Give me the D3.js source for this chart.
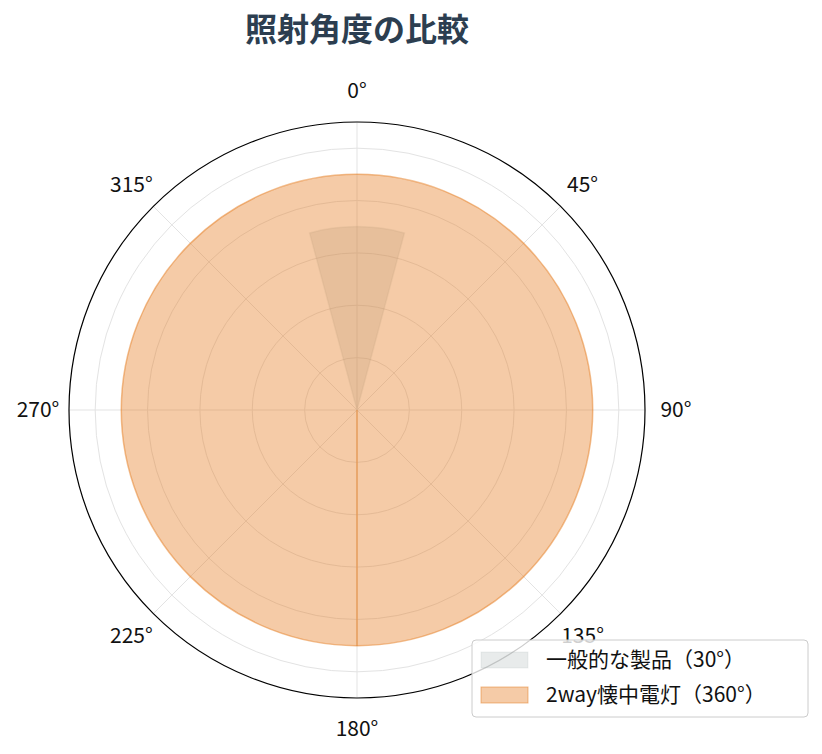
<!DOCTYPE html>
<html>
<head>
<meta charset="utf-8">
<script src="https://cdn.jsdelivr.net/npm/d3@7"></script>
<style>
  body { margin: 0; background: #fff; }
  text { font-family: "Noto Sans CJK JP", "Noto Sans", sans-serif; }
</style>
</head>
<body>
<div id="chart"></div>
<script>
// data
const categories = ["一般的な製品（30°）", "2way懐中電灯（360°）"];
const spanDeg = [30, 360];
const intensity = [0.7, 0.9];
const fillColors = ["#95a5a6", "#e67e22"];
const angleTicks = [0, 45, 90, 135, 180, 225, 270, 315];
const radialTicks = [0.2, 0.4, 0.6, 0.8, 1.0];
const rMax = 1.1;

let width = 822, height = 754;
let center = { x: 357, y: 410 };
let outerR = 288;

var angle = d3.scaleLinear().domain([0, 360]).range([0, 2 * Math.PI]);
var rScale = d3.scaleLinear().domain([0, rMax]).range([0, outerR]);

var svg = d3.select("#chart").append("svg")
    .attr("width", width)
    .attr("height", height);

svg.append("text")
    .attr("x", center.x)
    .attr("y", 41)
    .attr("text-anchor", "middle")
    .attr("font-size", 32)
    .attr("font-weight", "bold")
    .attr("fill", "#2c3e50")
    .text("照射角度の比較");

var g = svg.append("g")
    .attr("transform", "translate(" + center.x + "," + center.y + ")");

// grid
g.selectAll(".rgrid")
    .data(radialTicks)
    .enter().append("circle")
    .attr("r", d => rScale(d))
    .attr("fill", "none")
    .attr("stroke", "#e3e3e3")
    .attr("stroke-width", 1);

g.selectAll(".agrid")
    .data(angleTicks)
    .enter().append("line")
    .attr("x1", 0).attr("y1", 0)
    .attr("x2", d => outerR * Math.sin(angle(d)))
    .attr("y2", d => -outerR * Math.cos(angle(d)))
    .attr("stroke", "#e3e3e3")
    .attr("stroke-width", 1);

// wedges
var arc = d3.arc().innerRadius(0);

categories.forEach(function (c, i) {
    var half = spanDeg[i] / 2;
    var a = {
        outerRadius: rScale(intensity[i]),
        startAngle: spanDeg[i] >= 360 ? -Math.PI : angle(-half),
        endAngle: spanDeg[i] >= 360 ? Math.PI : angle(half)
    };
    g.append("path")
        .attr("d", arc(a))
        .attr("fill", fillColors[i])
        .attr("fill-opacity", i === 0 ? 0.22 : 0.4)
        .attr("stroke", fillColors[i])
        .attr("stroke-opacity", i === 0 ? 0.15 : 0.5)
        .attr("stroke-width", 1.5);
    if (spanDeg[i] >= 360) {
        // seam of the full circle at 180°
        g.append("path")
            .attr("d", d3.lineRadial()([[angle(180), 0], [angle(180), rScale(intensity[i])]]))
            .attr("stroke", fillColors[i])
            .attr("stroke-opacity", 0.5)
            .attr("stroke-width", 1.5)
            .attr("fill", "none");
    }
});

// outer frame
g.append("circle")
    .attr("r", outerR)
    .attr("fill", "none")
    .attr("stroke", "#000")
    .attr("stroke-width", 1.2);

// angle labels
g.selectAll(".alabel")
    .data(angleTicks)
    .enter().append("text")
    .attr("x", d => (outerR + 31) * Math.sin(angle(d)))
    .attr("y", d => -(outerR + 31) * Math.cos(angle(d)))
    .attr("dy", "0.35em")
    .attr("text-anchor", "middle")
    .attr("font-size", 21)
    .attr("fill", "#111")
    .text(d => d + "°");

// legend
var legend = svg.append("g").attr("transform", "translate(472,640)");
legend.append("rect")
    .attr("width", 336).attr("height", 77)
    .attr("rx", 4)
    .attr("fill", "#fff").attr("fill-opacity", 0.8)
    .attr("stroke", "#cccccc");

categories.forEach(function (c, i) {
    var y = 12 + i * 35;
    legend.append("rect")
        .attr("x", 9).attr("y", y)
        .attr("width", 47).attr("height", 16)
        .attr("fill", fillColors[i])
        .attr("fill-opacity", i === 0 ? 0.22 : 0.4)
        .attr("stroke", fillColors[i])
        .attr("stroke-opacity", i === 0 ? 0.15 : 0.5);
    legend.append("text")
        .attr("x", 74).attr("y", y + 8)
        .attr("dy", "0.35em")
        .attr("font-size", 21)
        .attr("fill", "#111")
        .text(c);
});
</script>
</body>
</html>
